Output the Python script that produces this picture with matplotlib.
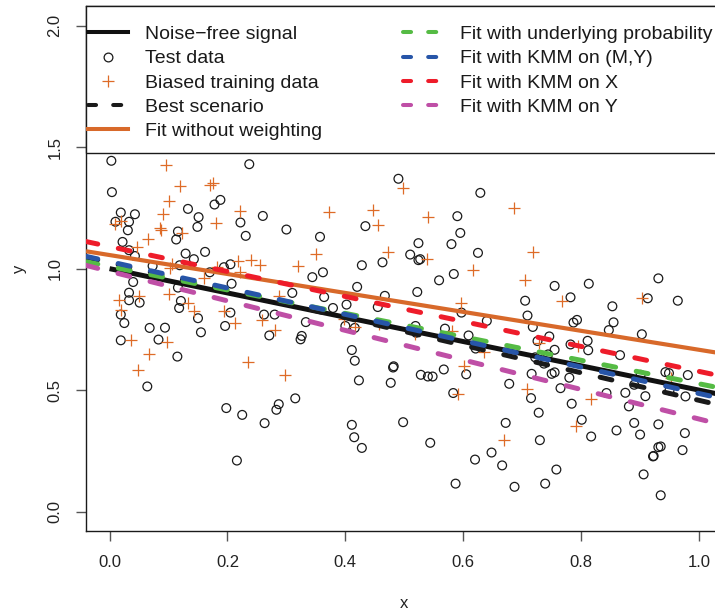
import numpy as np
import matplotlib
matplotlib.use('Agg')
import matplotlib.pyplot as plt
from matplotlib.lines import Line2D
from matplotlib.patches import Rectangle

plt.rcParams['font.family'] = ['Liberation Sans', 'DejaVu Sans']

# ---------------- data ----------------
test_x = [0.003, 0.004, 0.237, 0.019, 0.010, 0.033, 0.043, 0.031, 0.022, 0.133, 0.151, 0.149, 0.178, 0.188,
          0.116, 0.113, 0.222, 0.260, 0.231, 0.300, 0.357, 0.434, 0.490, 0.033, 0.043, 0.129, 0.143, 0.162,
          0.073, 0.119, 0.170, 0.194, 0.205, 0.428, 0.463, 0.344, 0.362, 0.040, 0.033, 0.033, 0.051, 0.207,
          0.116, 0.121, 0.118, 0.019, 0.025, 0.019, 0.068, 0.094, 0.083, 0.115, 0.064, 0.150, 0.155, 0.205,
          0.196, 0.262, 0.280, 0.271, 0.310, 0.333, 0.326, 0.324, 0.364, 0.379, 0.402, 0.420, 0.455, 0.467,
          0.400, 0.416, 0.411, 0.416, 0.423, 0.482, 0.481, 0.477,
          0.629, 0.590, 0.595, 0.580, 0.625, 0.524, 0.510, 0.524, 0.527, 0.584, 0.559, 0.522, 0.755, 0.813,
          0.931, 0.964, 0.782, 0.705, 0.709, 0.913, 0.853, 0.855, 0.847, 0.903, 0.787, 0.793, 0.718, 0.640,
          0.597, 0.569, 0.519, 0.520, 0.609, 0.621, 0.746, 0.811, 0.812, 0.782, 0.726, 0.755, 0.744, 0.722,
          0.737, 0.866, 0.567, 0.605, 0.528, 0.540, 0.548, 0.716, 0.750, 0.755, 0.780, 0.678, 0.765, 0.901,
          0.943, 0.949, 0.981, 0.890,
          0.198, 0.225, 0.216, 0.263, 0.283, 0.287, 0.315, 0.411, 0.415, 0.428,
          0.498, 0.544, 0.587, 0.583, 0.620, 0.648, 0.666, 0.672, 0.687, 0.715, 0.728, 0.730, 0.739, 0.758,
          0.784, 0.801, 0.817, 0.843, 0.860, 0.875, 0.881, 0.890, 0.900, 0.909, 0.906, 0.922, 0.923, 0.931,
          0.935, 0.931, 0.935, 0.950, 0.977, 0.976, 0.972]
test_y = [1.444, 1.315, 1.430, 1.231, 1.193, 1.193, 1.224, 1.158, 1.110, 1.246, 1.212, 1.172, 1.264, 1.283,
          1.153, 1.120, 1.190, 1.217, 1.135, 1.161, 1.131, 1.175, 1.370, 1.076, 1.052, 1.062, 1.039, 1.069,
          1.011, 1.014, 0.985, 1.006, 1.018, 1.014, 1.026, 0.965, 0.985, 0.945, 0.901, 0.870, 0.860, 0.938,
          0.922, 0.867, 0.838, 0.811, 0.776, 0.705, 0.756, 0.757, 0.708, 0.638, 0.515, 0.796, 0.738, 0.819,
          0.764, 0.811, 0.811, 0.725, 0.900, 0.780, 0.723, 0.709, 0.883, 0.838, 0.852, 0.925, 0.842, 0.888,
          0.764, 0.756, 0.665, 0.621, 0.540, 0.598, 0.593, 0.530,
          1.312, 1.216, 1.147, 1.101, 1.065, 1.105, 1.058, 1.035, 1.039, 0.978, 0.952, 0.904, 0.929, 0.938,
          0.960, 0.868, 0.882, 0.868, 0.807, 0.878, 0.845, 0.779, 0.747, 0.730, 0.778, 0.789, 0.760, 0.785,
          0.819, 0.753, 0.764, 0.736, 0.725, 0.671, 0.721, 0.703, 0.664, 0.688, 0.702, 0.666, 0.647, 0.635,
          0.609, 0.644, 0.585, 0.565, 0.563, 0.556, 0.556, 0.567, 0.567, 0.573, 0.551, 0.526, 0.508, 0.563,
          0.574, 0.570, 0.562, 0.522,
          0.426, 0.398, 0.210, 0.364, 0.419, 0.442, 0.466, 0.357, 0.306, 0.262,
          0.368, 0.283, 0.115, 0.488, 0.214, 0.243, 0.190, 0.365, 0.102, 0.467, 0.407, 0.294, 0.115, 0.173,
          0.444, 0.378, 0.309, 0.488, 0.334, 0.489, 0.433, 0.365, 0.317, 0.475, 0.153, 0.227, 0.229, 0.265,
          0.268, 0.359, 0.067, 0.499, 0.474, 0.323, 0.253]

train_x = [0.096, 0.120, 0.170, 0.175, 0.101, 0.091, 0.085, 0.088, 0.019, 0.010, 0.065, 0.123, 0.180, 0.222,
           0.372, 0.447, 0.456, 0.472, 0.350, 0.046, 0.218, 0.240, 0.255, 0.221, 0.106, 0.102, 0.183, 0.320,
           0.161, 0.016, 0.020, 0.050, 0.101, 0.133, 0.144, 0.194, 0.213, 0.258, 0.287, 0.280, 0.036, 0.098,
           0.067, 0.049, 0.235, 0.298, 0.398, 0.416, 0.457,
           0.498, 0.540, 0.539, 0.686, 0.719, 0.617, 0.705, 0.596, 0.767, 0.904, 0.581, 0.728, 0.794, 0.518,
           0.636, 0.601, 0.953,
           0.591, 0.709, 0.817, 0.791, 0.669]
train_y = [1.426, 1.341, 1.346, 1.351, 1.279, 1.224, 1.169, 1.161, 1.197, 1.183, 1.120, 1.147, 1.188, 1.238,
           1.232, 1.241, 1.179, 1.069, 1.059, 1.090, 1.030, 1.035, 1.017, 0.987, 1.021, 1.003, 1.007, 1.010,
           0.962, 0.872, 0.831, 0.886, 0.894, 0.860, 0.826, 0.827, 0.778, 0.790, 0.888, 0.746, 0.708, 0.698,
           0.650, 0.581, 0.614, 0.563, 0.794, 0.760, 0.774,
           1.330, 1.211, 1.039, 1.248, 1.069, 0.996, 0.954, 0.857, 0.867, 0.879, 0.745, 0.694, 0.680, 0.732,
           0.657, 0.598, 0.550,
           0.485, 0.503, 0.464, 0.354, 0.293]

signal_intercept, signal_slope = 1.0, -0.5
signal_range = [0.0, 1.04]

fit_labels = ["Best scenario", "Fit without weighting", "Fit with underlying probability",
              "Fit with KMM on (M,Y)", "Fit with KMM on X", "Fit with KMM on Y"]
fit_intercepts = [1.025, 1.056, 1.009, 1.029, 1.091, 0.989]
fit_slopes = [-0.567, -0.390, -0.483, -0.543, -0.514, -0.608]
fit_colors = ["#1a1a1a", "#D8692A", "#55BB44", "#2755A8", "#EE1C2A", "#BF4FA6"]
fit_dashed = [True, False, True, True, True, True]

xlim = (-0.04, 1.04)
ylim = (-0.08, 2.08)

# ---------------- figure ----------------
fig = plt.figure(figsize=(7.15, 6.11), dpi=100)
ax = fig.add_axes([86 / 715, (611 - 531) / 611, (722.6 - 86) / 715, (531 - 6.3) / 611])
ax.set_xlim(*xlim)
ax.set_ylim(*ylim)

ax.scatter(test_x, test_y, s=40, facecolors='none', edgecolors='#1a1a1a', linewidths=0.9, zorder=2)
ax.scatter(train_x, train_y, s=70, marker='+', color='#DE6B27', linewidths=0.9, zorder=2)

sx = np.array(signal_range)
ax.plot(sx, signal_intercept + signal_slope * sx, color='#111111', lw=3.6, solid_capstyle='butt', zorder=3)

lx = np.array(xlim)
for a, b, c, d in zip(fit_intercepts, fit_slopes, fit_colors, fit_dashed):
    if d:
        ax.plot(lx, a + b * lx, color=c, lw=3.6, ls=(0.0, (2.4, 4.2)), dash_capstyle='round', zorder=3)
    else:
        ax.plot(lx, a + b * lx, color=c, lw=3.0, solid_capstyle='butt', zorder=3)

# legend box
y0 = (531 - 153) / (531 - 6.3)
ax.add_patch(Rectangle((0, y0), 1, 1 - y0, transform=ax.transAxes, facecolor='white',
                       edgecolor='#1a1a1a', lw=1.0, zorder=5, clip_on=False))

handles = [Line2D([], [], color='#111111', lw=2.9),
           Line2D([], [], ls='none', marker='o', ms=6.3, mfc='none', mec='#1a1a1a', mew=0.9),
           Line2D([], [], ls='none', marker='+', ms=8.5, color='#DE6B27', mew=0.9)]
labels = ["Noise\u2212free signal", "Test data", "Biased training data"]
for lab, c, d in zip(fit_labels, fit_colors, fit_dashed):
    if d:
        handles.append(Line2D([], [], color=c, lw=2.9, ls=(0.0, (2.0, 4.25)), dash_capstyle='round'))
    else:
        handles.append(Line2D([], [], color=c, lw=2.9))
    labels.append(lab)

leg = ax.legend(handles, labels, ncol=2, loc='upper left', bbox_to_anchor=(88 / 715, 1 - 25.5 / 611),
                bbox_transform=fig.transFigure, frameon=False, fontsize=14, handlelength=2.06,
                handletextpad=0.87, columnspacing=4.17, labelspacing=0.34, borderpad=0, borderaxespad=0)
leg.set_zorder(6)
for t in leg.get_texts():
    t.set_color('#1a1a1a')

ax.set_xticks([0.0, 0.2, 0.4, 0.6, 0.8, 1.0])
ax.set_yticks([0.0, 0.5, 1.0, 1.5, 2.0])
ax.set_xticklabels(["0.0", "0.2", "0.4", "0.6", "0.8", "1.0"])
ax.set_yticklabels(["0.0", "0.5", "1.0", "1.5", "2.0"], rotation=90, va='center')
ax.tick_params(axis='both', length=7, width=1.0, color='#555555', labelsize=12, labelcolor='#222222')
ax.tick_params(axis='x', pad=10)
ax.tick_params(axis='y', pad=10)
for s in ax.spines.values():
    s.set_linewidth(1.0)
    s.set_color('#1a1a1a')

ax.set_xlabel("x", fontsize=12, color='#222222', labelpad=19)
ax.set_ylabel("y", fontsize=12, color='#222222', labelpad=15)

fig.savefig("out.png", dpi=100)
